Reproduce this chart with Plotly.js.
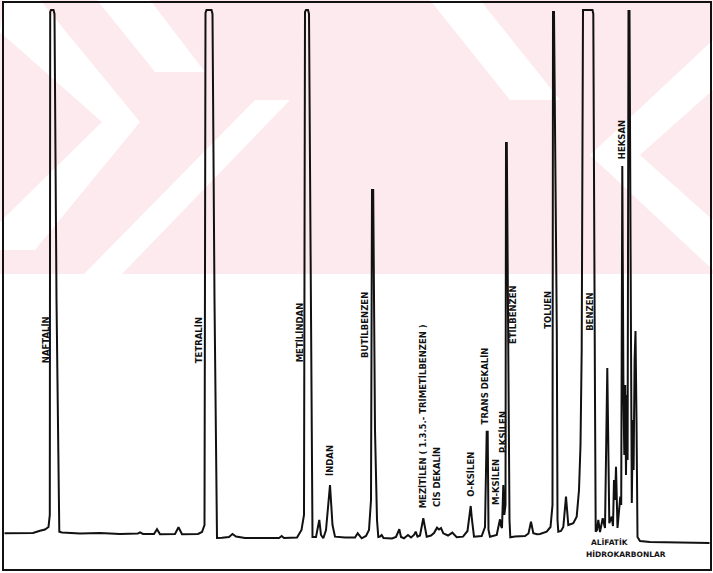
<!DOCTYPE html>
<html>
<head>
<meta charset="utf-8">
<script src="https://cdn.plot.ly/plotly-3.0.1.min.js"></script>
<style>
  html, body { margin: 0; padding: 0; background: #ffffff; }
  #chart { width: 713px; height: 573px; }
</style>
</head>
<body>
<div id="chart"></div>
<script>
// Gas chromatogram of an aromatic hydrocarbon mixture.
// Retention time in minutes (the recorder runs right to left),
// detector signal in percent of recorder full scale.
const time = [
  70.55, 69.0, 67.7, 67.0, 66.5, 66.15, 66.02, 65.98, 65.9, 65.65, 65.55, 65.35, 65.17, 65.07,
  64.8, 63.0, 61.0, 59.0, 57.2, 57.0, 56.7, 55.6, 55.3, 55.0, 53.5, 53.15, 52.8,
  51.2, 50.8, 50.55, 50.45, 50.35, 49.85, 49.75, 49.55, 49.4, 49.3,
  48.8, 48.1, 47.75, 47.4, 46.5, 44.5, 43.1, 42.83, 42.6, 41.3,
  40.85, 40.6, 40.5, 40.4, 40.2, 40.1, 39.95, 39.83, 39.75,
  39.4, 39.07, 38.9, 38.67, 38.4, 38.0, 37.75, 37.5, 36.5, 35.5, 35.23, 34.83,
  34.4, 34.1, 33.9, 33.8, 33.68, 33.5, 33.3, 33.17,
  33.0, 32.83, 32.65, 31.8, 31.4, 31.07, 30.9, 30.6, 30.2, 29.9, 29.6, 29.43, 29.25,
  29.0, 28.67, 28.33, 27.9, 27.6, 27.3, 27.1, 26.9, 26.67, 26.2, 25.77, 25.33,
  24.7, 24.25, 23.93, 23.8, 23.6, 22.83, 22.5, 22.33, 22.23, 22.15, 22.0,
  21.33, 21.15, 21.0, 20.9, 20.8, 20.67, 20.57, 20.45, 20.4, 20.32, 20.15, 20.05, 19.97,
  19.5, 18.5, 18.15, 17.9, 17.67, 17.3, 17.0, 16.33, 15.95, 15.75,
  15.7, 15.6, 15.45, 15.32, 15.25, 15.17, 14.9, 14.67, 14.4, 14.25, 14.17, 13.67, 13.33,
  13.1, 12.95, 12.83, 12.77, 12.7, 11.75, 11.67, 11.5, 11.43,
  11.3, 11.17, 11.0, 10.73, 10.5, 10.27, 10.07, 9.83, 9.7, 9.6, 9.5, 9.4, 9.25,
  9.1, 8.97, 8.88, 8.77, 8.65, 8.57, 8.48, 8.40, 8.32, 8.24, 8.15, 8.05,
  7.90, 7.82, 7.72, 7.64, 7.54, 7.45, 7.35, 7.25, 7.0, 6.0, 3.0, 0.05
];
const signal = [
  0.32, 0.29, 0.38, 0.82, 1.05, 1.52, 3.81, 99.62, 100, 100, 99.24, 44.76, 6.67, 0.63,
  0.48, 0.29, 0.38, 0.19, 0.29, 0.48, 0.19, 0.19, 1.09, 0.13, 0.19, 1.47, 0.13,
  0.19, 0.57, 1.90, 99.43, 100, 100, 99.24, 44.76, 6.67, -0.57,
  -0.51, -0.38, 0.19, -0.29, -0.57, -0.63, -0.57, -0.19, -0.57, -0.48,
  0.95, 3.81, 99.62, 100, 100, 99.24, 54.29, 20.0, -0.38,
  -0.38, 2.86, 0, -0.63, 0.95, 9.52, 1.90, -0.32, -0.48, -0.48, 0.32, -0.63,
  -0.19, 0.95, 6.67, 65.71, 65.71, 20.0, 2.86, -0.38,
  -0.29, 0, -0.57, -0.67, -0.38, 1.09, -0.38, -0.63, 0, -0.48, 0, 0.63, -0.32,
  -0.10, 3.18, -0.32, -0.10, 0.38, 1.39, 1.05, 1.33, 0.32, -0.10, 0.44, -0.44,
  -0.32, 0.76, 5.52, 2.86, -0.32, -0.19, 1.52, 19.68, 19.68, 0.95, -0.32,
  0, 1.33, 2.99, 1.71, 1.33, 9.52, 3.81, 5.71, 74.67, 74.67, 25.71, 2.86, -0.44,
  -0.29, -0.19, 0.29, 2.53, 0.32, 0.13, 0.19, 0.63, 1.52, 5.71,
  99.62, 99.62, 63.81, 39.05, 2.86, 0.63, 0.76, 1.52, 7.30, 2.48, 1.90, 2.23, 3.49,
  8.57, 17.14, 35.24, 99.62, 100, 100, 99.24, 25.71, 0.63,
  0.95, 2.86, 0.57, 3.18, 1.33, 31.81, 2.23, 3.49, 1.71, 10.48, 6.67, 13.01, 1.33,
  4.38, 7.30, 5.71, 70.29, 25.71, 15.24, 28.57, 11.43, 26.67, 14.29, 99.81, 99.81,
  37.14, 6.10, 21.90, 12.38, 33.33, 38.86, 21.90, -0.38, -1.14, -1.33, -1.43, -1.52
];

// Identified components, in order of the labels on the trace
const compounds = [
  'NAFTALİN', 'TETRALİN', 'METİLİNDAN', 'İNDAN', 'BUTİLBENZEN',
  'MEZİTİLEN ( 1.3.5.- TRİMETİLBENZEN )', 'CİS DEKALİN', 'O-KSİLEN',
  'TRANS DEKALİN', 'M-KSİLEN', 'P.KSİLEN', 'ETİLBENZEN', 'TOLUEN', 'BENZEN', 'HEKSAN'
];
const groupLabel = ['ALİFATİK', 'HİDROKARBONLAR'];

// Where each vertical label sits beside its peak (time, signal)
const labelAnchors = [
  [66.4, 37.1], [51.1, 37.1], [41.05, 38.5], [38.0, 14.1], [34.5, 40.0],
  [28.75, 22.5], [27.3, 11.05], [23.93, 11.6], [22.55, 28.4], [21.4, 10.1],
  [20.7, 19.6], [19.7, 41.9], [16.2, 42.9], [12.0, 42.5], [8.8, 75.2]
];
const groupAnchors = [[10.0, -1.5], [8.4, -3.8]];

const labelFont = { family: 'DejaVu Sans, sans-serif', size: 8.5, color: '#111111', weight: 'bold' };

const annotations = compounds.map((name, i) => ({
  x: labelAnchors[i][0], y: labelAnchors[i][1], xref: 'x', yref: 'y',
  text: name, showarrow: false, textangle: -90,
  xanchor: 'center', yanchor: 'middle', font: labelFont
})).concat(groupLabel.map((name, i) => ({
  x: groupAnchors[i][0], y: groupAnchors[i][1], xref: 'x', yref: 'y',
  text: name, showarrow: false, xanchor: 'center', yanchor: 'middle',
  font: Object.assign({}, labelFont, { size: 7.5 })
})));

// Faint pink band with white chevrons across the upper part of the sheet
const W = 713, H = 573, M = { l: 4, r: 3, t: 3, b: 4 };
function px(x, y) {
  const pw = W - M.l - M.r, ph = H - M.t - M.b;
  return [((x - M.l) / pw).toFixed(4), ((H - M.b - y) / ph).toFixed(4)];
}
function poly(points, color) {
  const d = points.map((p, i) => (i ? 'L' : 'M') + px(p[0], p[1]).join(',')).join(' ') + ' Z';
  return { type: 'path', xref: 'paper', yref: 'paper', path: d,
           fillcolor: color, line: { width: 0 }, layer: 'below' };
}
const pink = '#fdeaee';
const shapes = [
  poly([[0, 0], [713, 0], [713, 274], [0, 274]], pink),
  poly([[4, 0], [40, 0], [140, 122], [35, 250], [0, 250], [0, 222], [102, 122], [0, 32]], '#ffffff'),
  poly([[97, 0], [150, 0], [205, 72], [155, 72]], '#ffffff'),
  poly([[84, 274], [122, 274], [290, 100], [255, 100]], '#ffffff'),
  poly([[430, 0], [480, 0], [560, 100], [510, 100]], '#ffffff'),
  poly([[713, 40], [713, 90], [640, 155], [713, 220], [713, 270], [590, 155]], '#ffffff')
];

const data = [{
  type: 'scatter', mode: 'lines', x: time, y: signal,
  line: { color: '#111111', width: 2 }, hoverinfo: 'skip'
}];

const axisStyle = {
  showgrid: false, zeroline: false, showticklabels: false, ticks: '',
  showline: true, mirror: true, linecolor: '#111111', linewidth: 2
};

const layout = {
  width: W, height: H,
  margin: { l: M.l, r: M.r, t: M.t, b: M.b, pad: 0 },
  paper_bgcolor: '#ffffff', plot_bgcolor: 'rgba(0,0,0,0)',
  showlegend: false,
  xaxis: Object.assign({ range: [70.6, 0] }, axisStyle),
  yaxis: Object.assign({ range: [-6.48, 101.33] }, axisStyle),
  annotations: annotations,
  shapes: shapes
};

Plotly.newPlot('chart', data, layout, { displayModeBar: false, staticPlot: true });
</script>
</body>
</html>
